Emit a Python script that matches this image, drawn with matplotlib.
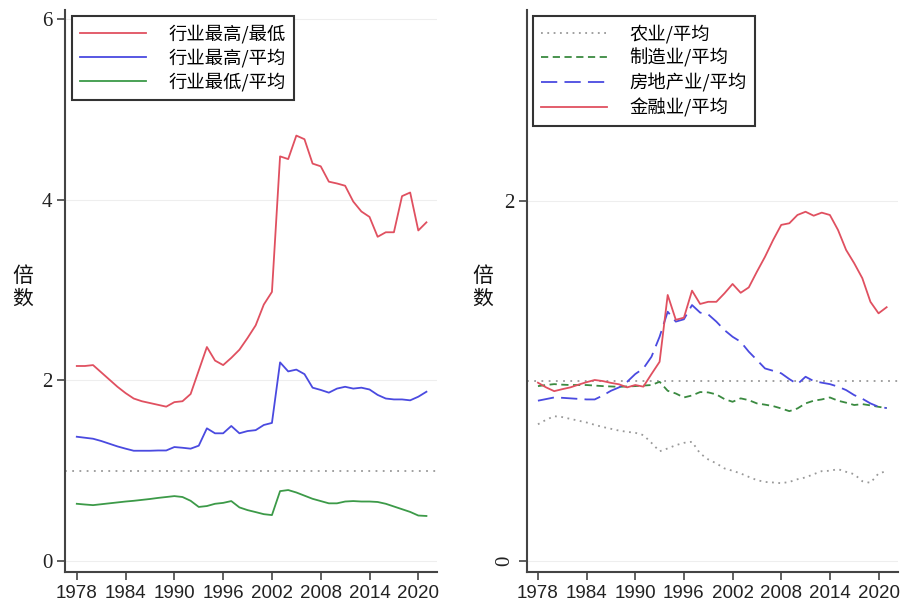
import matplotlib
matplotlib.use("Agg")
import matplotlib.pyplot as plt
import numpy as np

years = list(range(1978, 2022))

# Left panel series
high_low = [2.16, 2.16, 2.17, 2.09, 2.01, 1.93, 1.86, 1.80, 1.77, 1.75, 1.73, 1.71,
            1.76, 1.77, 1.85, 2.11, 2.37, 2.22, 2.17, 2.25, 2.34, 2.47, 2.61, 2.84,
            2.98, 4.48, 4.45, 4.71, 4.67, 4.40, 4.37, 4.20, 4.18, 4.155, 3.98, 3.87,
            3.81, 3.59, 3.64, 3.64, 4.04, 4.08, 3.66, 3.75]
high_avg = [1.377, 1.366, 1.355, 1.33, 1.30, 1.27, 1.245, 1.222, 1.222, 1.222, 1.225, 1.225,
            1.263, 1.255, 1.245, 1.278, 1.47, 1.415, 1.415, 1.496, 1.415, 1.44, 1.45, 1.507,
            1.53, 2.20, 2.10, 2.12, 2.07, 1.92, 1.895, 1.865, 1.91, 1.93, 1.91, 1.92,
            1.90, 1.84, 1.80, 1.79, 1.79, 1.78, 1.82, 1.875]
low_avg = [0.635, 0.627, 0.62, 0.63, 0.64, 0.65, 0.66, 0.668, 0.678, 0.688, 0.70, 0.71,
           0.72, 0.71, 0.668, 0.60, 0.61, 0.635, 0.645, 0.665, 0.595, 0.565, 0.543, 0.52,
           0.51, 0.775, 0.787, 0.76, 0.725, 0.69, 0.665, 0.64, 0.64, 0.66, 0.665, 0.66,
           0.66, 0.655, 0.635, 0.605, 0.575, 0.545, 0.505, 0.50]

# Right panel series
agri = [0.76, 0.785, 0.805, 0.80, 0.79, 0.78, 0.77, 0.757, 0.745, 0.735, 0.725, 0.718,
        0.713, 0.70, 0.657, 0.61, 0.626, 0.644, 0.657, 0.663, 0.598, 0.565, 0.543, 0.515,
        0.502, 0.487, 0.468, 0.45, 0.44, 0.437, 0.433, 0.44, 0.455, 0.465, 0.483, 0.50,
        0.502, 0.511, 0.496, 0.483, 0.444, 0.435, 0.487, 0.50]
manuf = [0.972, 0.978, 0.983, 0.98, 0.978, 0.978, 0.978, 0.975, 0.972, 0.97, 0.968, 0.97,
         0.972, 0.975, 0.978, 0.996, 0.946, 0.931, 0.909, 0.92, 0.939, 0.937, 0.926, 0.90,
         0.885, 0.904, 0.894, 0.876, 0.869, 0.861, 0.848, 0.833, 0.848, 0.876, 0.891, 0.898,
         0.909, 0.891, 0.880, 0.867, 0.872, 0.865, 0.857, 0.85]
realestate = [0.891, 0.90, 0.909, 0.907, 0.904, 0.901, 0.898, 0.898, 0.92, 0.946, 0.965, 0.996,
              1.039, 1.07, 1.135, 1.246, 1.385, 1.33, 1.343, 1.422, 1.38, 1.37, 1.33, 1.283,
              1.246, 1.218, 1.163, 1.117, 1.07, 1.057, 1.043, 1.011, 0.983, 1.024, 1.0, 0.991,
              0.983, 0.969, 0.95, 0.922, 0.902, 0.876, 0.857, 0.85]
finance = [0.991, 0.965, 0.944, 0.955, 0.965, 0.98, 0.994, 1.006, 1.0, 0.99, 0.982, 0.965,
           0.978, 0.969, 1.039, 1.107, 1.478, 1.34, 1.352, 1.502, 1.428, 1.44, 1.44, 1.487,
           1.539, 1.49, 1.52, 1.607, 1.69, 1.783, 1.867, 1.876, 1.922, 1.94, 1.918, 1.935,
           1.922, 1.839, 1.728, 1.654, 1.571, 1.44, 1.376, 1.41]

xticks = [1978, 1984, 1990, 1996, 2002, 2008, 2014, 2020]
left_yticks = [0, 2, 4, 6]
right_yticks = [0, 2]

left_labels = ["行业最高/最低", "行业最高/平均", "行业最低/平均"]
right_labels = ["农业/平均", "制造业/平均", "房地产业/平均", "金融业/平均"]

CJK = ["Noto Sans CJK SC", "DejaVu Sans"]
RED = "#e05060"
BLUE = "#4a4ae0"
GREEN = "#3c9a48"
SPINE = "#444444"

fig = plt.figure(figsize=(9, 6.03), dpi=100)
axL = fig.add_axes([65/900, 31/603, 372/900, 562/603])
axR = fig.add_axes([527/900, 31/603, 371/900, 562/603])

def style(ax, yticks, ylim):
    ax.set_xlim(1976.55, 2022.3)
    ax.set_ylim(*ylim)
    for s in ["top", "right"]:
        ax.spines[s].set_visible(False)
    for s in ["left", "bottom"]:
        ax.spines[s].set_color(SPINE)
        ax.spines[s].set_linewidth(1.5)
    ax.set_xticks(xticks)
    ax.set_xticklabels([str(t) for t in xticks], family="Liberation Sans", fontsize=13.5, color="#222222")
    ax.set_yticks(yticks)
    ax.set_yticklabels([str(t) for t in yticks], family="Liberation Serif", fontsize=15, color="#222222")
    ax.tick_params(axis="both", length=6, width=1.2, color=SPINE, pad=3)
    for t in yticks:
        ax.axhline(t, color="#eeeeee", lw=0.8, zorder=0)
    ax.axhline(1, color="#999999", lw=1.3, ls=(0, (1, 3)), zorder=1)

style(axL, left_yticks, (-0.12, 6.1))
style(axR, right_yticks, (-0.06, 3.06))
axR.set_xlim(1976.65, 2022.4)
axR.get_yticklabels()[0].set_rotation(90)
axR.get_yticklabels()[0].set_verticalalignment("center")

lw = 1.3
axL.plot(years, high_low, color=RED, lw=lw, label=left_labels[0])
axL.plot(years, high_avg, color=BLUE, lw=lw, label=left_labels[1])
axL.plot(years, low_avg, color=GREEN, lw=lw, label=left_labels[2])

axR.plot(years, agri, color="#999999", lw=1.3, ls=(0, (1, 2.5)), label=right_labels[0])
axR.plot(years, manuf, color="#3a8a40", lw=1.3, ls=(0, (4, 2.5)), label=right_labels[1])
axR.plot(years, realestate, color=BLUE, lw=1.3, ls=(0, (9, 4)), label=right_labels[2])
axR.plot(years, finance, color=RED, lw=1.3, label=right_labels[3])

def legend(ax, x, y):
    lg = ax.legend(loc="upper left", bbox_to_anchor=(x, y), prop={"family": CJK, "size": 13.2},
                   frameon=True, fancybox=False, shadow=False, handlelength=3.6,
                   handletextpad=1.2, labelspacing=0.3, borderpad=0.45, borderaxespad=0)
    fr = lg.get_frame()
    fr.set_edgecolor("#333333")
    fr.set_linewidth(1.5)
    fr.set_facecolor("white")
    fr.set_alpha(1)
    return lg

legend(axL, 7/372, 1 - 6/562)
legend(axR, 6/371, 1 - 6/562)

fig.text(23/900, 1 - 287/603, "倍\n数", family=CJK, fontsize=15, ha="center", va="center",
         linespacing=1.05, color="#111111")
fig.text(483/900, 1 - 287/603, "倍\n数", family=CJK, fontsize=15, ha="center", va="center",
         linespacing=1.05, color="#111111")

fig.savefig("out.png", dpi=100, facecolor="white")
